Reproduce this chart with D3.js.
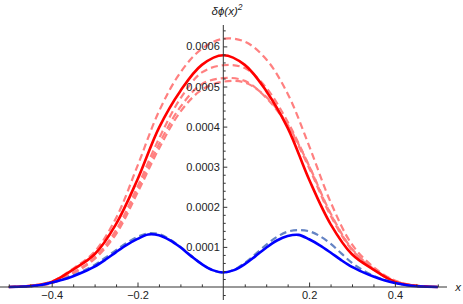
<!DOCTYPE html>
<html>
<head>
<meta charset="utf-8">
<script src="https://cdn.jsdelivr.net/npm/d3@7"></script>
<style>
  body { margin: 0; background: #fff; }
  text { font-family: "Liberation Sans", Arial, sans-serif; }
</style>
</head>
<body>
<div id="chart-area"></div>
<script>

// data

var xRed = [-0.5, -0.45, -0.4, -0.35, -0.3, -0.25, -0.2, -0.15, -0.1, -0.05, 0,
            0.05, 0.1, 0.15, 0.2, 0.25, 0.3, 0.35, 0.4, 0.45, 0.5];

var redSolid = [0, 0.000003, 0.0000127, 0.0000435, 0.0000816, 0.000157, 0.000268, 0.000397, 0.000489, 0.000554, 0.000578,
                0.000554, 0.000489, 0.000397, 0.000268, 0.000157, 0.0000816, 0.0000435, 0.0000127, 0.000003, 0];

// faint dashed red runs
var redDash1 = [0, 0.000003, 0.000014, 0.000046, 0.000088, 0.000172, 0.000302, 0.000438, 0.000535, 0.000594, 0.000619,
                0.000612, 0.000568, 0.000482, 0.000352, 0.000212, 0.000106, 0.00005, 0.000016, 0.000003, 0];
var redDash2 = [0, 0.000002, 0.00001, 0.000036, 0.000073, 0.000142, 0.00025, 0.00037, 0.00047, 0.000535, 0.000553,
                0.000546, 0.000497, 0.000412, 0.000302, 0.000182, 0.000094, 0.000045, 0.000014, 0.000003, 0];
var redDash3 = [0, 0.000002, 0.00001, 0.000035, 0.000072, 0.000138, 0.000243, 0.000356, 0.000449, 0.000506, 0.000521,
                0.000514, 0.000472, 0.000402, 0.000297, 0.000178, 0.000092, 0.000044, 0.000014, 0.000003, 0];
var redDash4 = [0, 0.000002, 0.00001, 0.000034, 0.00007, 0.000132, 0.000235, 0.000345, 0.000437, 0.000492, 0.000512,
                0.00051, 0.000474, 0.000405, 0.000302, 0.000184, 0.000095, 0.000046, 0.000015, 0.000003, 0];

var xBlue = [-0.5, -0.475, -0.45, -0.425, -0.4, -0.375, -0.35, -0.325, -0.3, -0.275, -0.25, -0.225, -0.2, -0.175, -0.15,
             -0.125, -0.1, -0.075, -0.05, -0.025, 0, 0.025, 0.05, 0.075, 0.1, 0.125, 0.15, 0.175, 0.2, 0.225, 0.25,
             0.275, 0.3, 0.325, 0.35, 0.375, 0.4, 0.425, 0.45, 0.475, 0.5];

var blueSolid = [0, 0.0000005, 0.000002, 0.000005, 0.000011, 0.000018, 0.000027, 0.000038, 0.000051, 0.000068, 0.000087,
                 0.000105, 0.00012, 0.000131, 0.000129, 0.000117, 0.000099, 0.000077, 0.000057, 0.000042, 0.000036,
                 0.000042, 0.000057, 0.000077, 0.000098, 0.000116, 0.000127, 0.00013, 0.000119, 0.000104, 0.000086,
                 0.000067, 0.00005, 0.000037, 0.000026, 0.000017, 0.00001, 0.000005, 0.000002, 0.0000005, 0];

var blueDash = [0, 0.0000005, 0.000002, 0.000005, 0.000011, 0.000019, 0.000029, 0.000041, 0.000055, 0.000073, 0.000092,
                0.00011, 0.000125, 0.000134, 0.000132, 0.000119, 0.0001, 0.000078, 0.000057, 0.000042, 0.000036,
                0.000043, 0.00006, 0.000082, 0.000105, 0.000125, 0.000138, 0.000142, 0.000139, 0.000127, 0.000108,
                0.000084, 0.00006, 0.000042, 0.000028, 0.000018, 0.000011, 0.000005, 0.000002, 0.0000005, 0];

// ticks
var xMajor = [-0.4, -0.2, 0.2, 0.4];
var xMinor = [-0.5, -0.45, -0.35, -0.3, -0.25, -0.15, -0.1, -0.05, 0.05, 0.1, 0.15, 0.25, 0.3, 0.35, 0.45, 0.5];
var xTickLabels = ["\u22120.4", "\u22120.2", "0.2", "0.4"];
var yMajor = [0.0001, 0.0002, 0.0003, 0.0004, 0.0005, 0.0006];
var yTickLabels = ["0.0001", "0.0002", "0.0003", "0.0004", "0.0005", "0.0006"];
var yMinor = [-0.00002, 0.00002, 0.00004, 0.00006, 0.00008, 0.00012, 0.00014, 0.00016, 0.00018,
              0.00022, 0.00024, 0.00026, 0.00028, 0.00032, 0.00034, 0.00036, 0.00038,
              0.00042, 0.00044, 0.00046, 0.00048, 0.00052, 0.00054, 0.00056, 0.00058,
              0.00062, 0.00064];

// SVG drawing area

var width = 463, height = 304;

var svg = d3.select("#chart-area").append("svg")
    .attr("width", width)
    .attr("height", height);

var x = d3.scaleLinear()
    .domain([-0.5, 0.5])
    .range([8.8, 437.8]);
var y = d3.scaleLinear()
    .domain([0, 0.0006])
    .range([287, 46.4]);

var x0 = x(0), y0 = y(0);

function pts(xs, ys) {
    return xs.map(function (d, i) { return [d, ys[i]]; });
}

var line = d3.line()
    .x(function (d) { return x(d[0]); })
    .y(function (d) { return y(d[1]); })
    .curve(d3.curveCatmullRom.alpha(0.5));

// curves
var curves = [
    {xs: xRed, ys: redDash4, color: "#ff8080", w: 2.2, dash: "7,4"},
    {xs: xRed, ys: redDash3, color: "#ff8080", w: 2.2, dash: "7,4"},
    {xs: xRed, ys: redDash2, color: "#ff8080", w: 2.2, dash: "7,4"},
    {xs: xRed, ys: redDash1, color: "#ff8080", w: 2.2, dash: "7,4"},
    {xs: xRed, ys: redSolid, color: "#ff0000", w: 2.6, dash: null},
    {xs: xBlue, ys: blueDash, color: "#6584c4", w: 2.2, dash: "7,4"},
    {xs: xBlue, ys: blueSolid, color: "#0000ff", w: 2.6, dash: null}
];

svg.selectAll(".curve")
    .data(curves)
    .enter().append("path")
    .attr("class", "curve")
    .attr("fill", "none")
    .attr("stroke", function (d) { return d.color; })
    .attr("stroke-width", function (d) { return d.w; })
    .attr("stroke-dasharray", function (d) { return d.dash; })
    .attr("stroke-linejoin", "round")
    .attr("d", function (d) { return line(pts(d.xs, d.ys)); });

// x axis (ticks point up into the plot)
var axisColor = "#333";

svg.append("line")
    .attr("x1", 0).attr("x2", 447)
    .attr("y1", y0).attr("y2", y0)
    .attr("stroke", axisColor);

var gx = svg.append("g")
    .attr("transform", "translate(0," + y0 + ")")
    .call(d3.axisBottom(x).tickValues(xMajor)
        .tickFormat(function (d, i) { return xTickLabels[i]; })
        .tickSizeInner(-4.5).tickSizeOuter(0).tickPadding(4));
var gxm = svg.append("g")
    .attr("transform", "translate(0," + y0 + ")")
    .call(d3.axisBottom(x).tickValues(xMinor).tickFormat("")
        .tickSizeInner(-2.6).tickSizeOuter(0));

// y axis (ticks point right)
svg.append("line")
    .attr("x1", x0).attr("x2", x0)
    .attr("y1", 25).attr("y2", 300)
    .attr("stroke", axisColor);

var gy = svg.append("g")
    .attr("transform", "translate(" + x0 + ",0)")
    .call(d3.axisLeft(y).tickValues(yMajor)
        .tickFormat(function (d, i) { return yTickLabels[i]; })
        .tickSizeInner(-4).tickSizeOuter(0).tickPadding(3.5));
var gym = svg.append("g")
    .attr("transform", "translate(" + x0 + ",0)")
    .call(d3.axisLeft(y).tickValues(yMinor).tickFormat("")
        .tickSizeInner(-2.4).tickSizeOuter(0));

[gx, gxm, gy, gym].forEach(function (g) {
    g.select(".domain").remove();
    g.selectAll(".tick line").attr("stroke", axisColor);
    g.selectAll("text")
        .attr("font-family", "'Liberation Sans', Arial, sans-serif")
        .attr("font-size", 11)
        .attr("fill", "#222");
});

// axis labels
var ylab = svg.append("text")
    .attr("x", 227)
    .attr("y", 15)
    .attr("text-anchor", "middle")
    .attr("font-size", 11.5)
    .attr("font-style", "italic")
    .attr("fill", "#222");
ylab.append("tspan").text("\u03b4\u03d5(x)");
ylab.append("tspan").attr("dy", -5).attr("font-size", 8.5).text("2");

svg.append("text")
    .attr("x", 458)
    .attr("y", 291)
    .attr("text-anchor", "middle")
    .attr("font-size", 11.5)
    .attr("font-style", "italic")
    .attr("fill", "#222")
    .text("x");

</script>
</body>
</html>
